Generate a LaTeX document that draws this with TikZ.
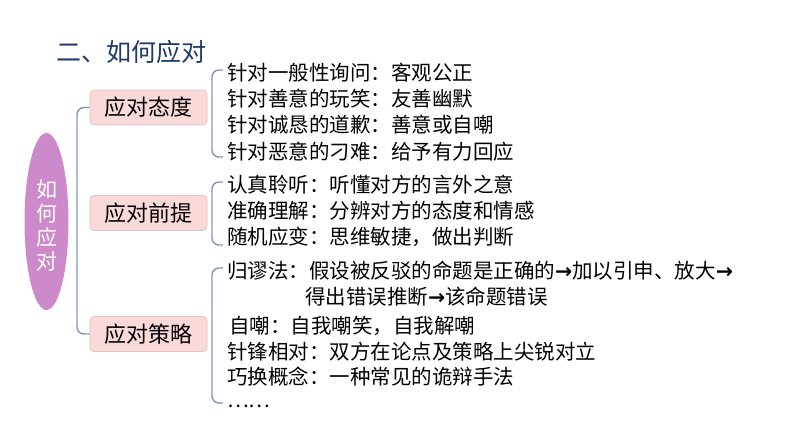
\documentclass[tikz,border=0pt]{standalone}
\usepackage{fontspec}
\setmainfont{Noto Sans CJK SC}
\newfontfamily\arrowfont{DejaVu Sans}
\newcommand{\harr}{{\arrowfont\bfseries →}}
\usetikzlibrary{shapes.geometric}
\definecolor{titleblue}{HTML}{1F3A68}
\definecolor{brkcol}{HTML}{7F95C8}
\definecolor{boxfill}{HTML}{FADAD8}
\definecolor{boxdraw}{HTML}{E3C2C2}
\definecolor{ellfill}{HTML}{CC8ACB}
\begin{document}
\begin{tikzpicture}[x=1pt,y=-1pt,
  brk/.style={draw=brkcol,line width=1.4pt,rounded corners=7pt},
  catbox/.style={draw=boxdraw,line width=0.8pt,fill=boxfill,rounded corners=4pt,minimum width=117pt,minimum height=35pt,inner sep=0pt,font=\fontsize{22}{24}\selectfont},
  item/.style={anchor=west,inner sep=0pt,font=\fontsize{20.5}{22}\selectfont}]
\useasboundingbox (0,0) rectangle (794,447);
% title
\node[anchor=west,inner sep=0pt,text=titleblue,font=\fontsize{25}{27}\selectfont] (title) at (56,52) {二、如何应对};
% root ellipse
\node[ellipse,fill=ellfill,minimum width=44pt,minimum height=177pt,inner sep=0pt] (root) at (46.5,221.5) {};
\node[text=white,align=center,inner sep=0pt,font=\fontsize{21}{24}\selectfont] (rootlabel) at (46.5,226) {如\\何\\应\\对};
% category boxes
\node[catbox] (b1) at (148.5,107.5) {应对态度};
\node[catbox] (b2) at (148.5,213) {应对前提};
\node[catbox] (b3) at (148.5,334) {应对策略};
\draw[brk] (b1.west) -| (77,220) |- (b3.west);
% group 1
\node[item] (a1) at (227,73) {针对一般性询问：客观公正};
\node[item] (a2) at (227,99) {针对善意的玩笑：友善幽默};
\node[item] (a3) at (227,125) {针对诚恳的道歉：善意或自嘲};
\node[item] (a4) at (227,152) {针对恶意的刁难：给予有力回应};
\coordinate (g1t) at (223,70);
\coordinate (g1b) at (223,157);
\draw[brk] (g1t) -| (212,113) |- (g1b);
% group 2
\node[item] (p1) at (227,185) {认真聆听：听懂对方的言外之意};
\node[item] (p2) at (227,211) {准确理解：分辨对方的态度和情感};
\node[item] (p3) at (227,237) {随机应变：思维敏捷，做出判断};
\coordinate (g2t) at (223,182);
\coordinate (g2b) at (223,245);
\draw[brk] (g2t) -| (212,213) |- (g2b);
% group 3
\node[item] (s1) at (227,271) {归谬法：假设被反驳的命题是正确的\harr 加以引申、放大\harr};
\node[item] (s1b) at (305,297) {得出错误推断\harr 该命题错误};
\node[item] (s2) at (229,326) {自嘲：自我嘲笑，自我解嘲};
\node[item] (s3) at (227,352) {针锋相对：双方在论点及策略上尖锐对立};
\node[item] (s4) at (227,377) {巧换概念：一种常见的诡辩手法};
\node[item,anchor=base west,text height=3pt,text depth=0pt] (s5) at (227,407) {……};
\coordinate (g3t) at (223,268);
\coordinate (g3b) at (223,403);
\draw[brk] (g3t) -| (212,336) |- (g3b);
\end{tikzpicture}
\end{document}
